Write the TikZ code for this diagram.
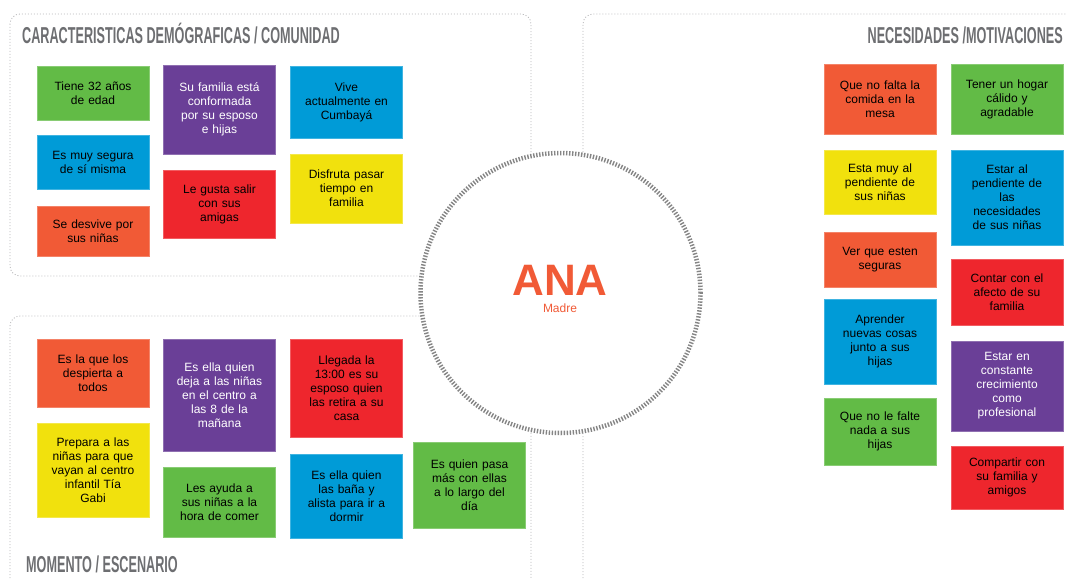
\documentclass[tikz,border=0pt]{standalone}
\usepackage{fontspec}
\setmainfont{Liberation Sans}
\newfontfamily\titlefont[FakeStretch=0.55]{Liberation Sans}
\definecolor{Verde}{HTML}{62BB46}
\definecolor{Azul}{HTML}{009BD7}
\definecolor{Naranja}{HTML}{F15A36}
\definecolor{Morado}{HTML}{6A3F97}
\definecolor{Rojo}{HTML}{EE262D}
\definecolor{Amarillo}{HTML}{F1E10D}
\definecolor{Gris}{HTML}{6D6E71}
\definecolor{Anillo}{HTML}{858585}
\usepackage{tikz}

\begin{document}
\begin{tikzpicture}[x=1pt,y=-1pt,
  nota/.style={rectangle,fill=#1,draw=#1!75!white,line width=0.6pt,
    minimum width=112pt,inner sep=0pt,text width=110pt,align=center,
    font=\fontsize{12}{14}\selectfont,text=black},
  marco/.style={draw=Gris!50,line width=0.8pt,dash pattern=on 1pt off 2pt,
    rounded corners=10pt},
  titulo/.style={font=\titlefont\bfseries\fontsize{23}{23}\selectfont,
    text=Gris,inner sep=0pt}]
  \useasboundingbox (0,0) rectangle (1067,578);

  % Frames of the three areas
  \draw[marco] (10,14) rectangle (531,276);
  \draw[marco] (583,620) |- (1090,14);
  \draw[marco] (10,620) |- (531,316) -- (531,620);

  % Ring with the person
  \node[circle,draw=Anillo,fill=white,line width=4.5pt,
    dash pattern=on 1.4pt off 1.6pt,minimum size=280pt,inner sep=0pt]
    (anillo) at (560.5,293) {};
  \node[font=\bfseries\fontsize{44}{44}\selectfont,text=Naranja,inner sep=0pt]
    (ana) at (560,280) {ANA};
  \node[font=\fontsize{12}{12}\selectfont,text=Naranja,inner sep=0pt]
    (rol) at (560,308.5) {Madre};

  % Block: caracteristicas
  \node[titulo,anchor=base west] (tdemo) at (22,44)
    {CARACTERISTICAS DEMÓGRAFICAS / COMUNIDAD};
  \node[nota=Verde,minimum height=54pt] (edad) at (93,93) {Tiene 32 años\\de edad};
  \node[nota=Azul,minimum height=54pt] (segura) at (93,162) {Es muy segura\\de sí misma};
  \node[nota=Naranja,minimum height=50pt] (desvive) at (93,231) {Se desvive por\\sus niñas};
  \node[nota=Morado,text=white,minimum height=89pt] (familia) at (219.5,109.5)
    {Su familia está\\conformada\\por su esposo\\e hijas};
  \node[nota=Rojo,minimum height=68pt] (amigas) at (219.5,204) {Le gusta salir\\con sus\\amigas};
  \node[nota=Azul,minimum height=72pt] (cumbaya) at (346.5,102) {Vive\\actualmente en\\Cumbayá};
  \node[nota=Amarillo,minimum height=69pt] (disfruta) at (346.5,188.5)
    {Disfruta pasar\\tiempo en\\familia};

  % Block: necesidades
  \node[titulo,anchor=base east] (tneces) at (1063,44) {NECESIDADES /MOTIVACIONES};
  \node[nota=Naranja,minimum height=70pt] (comida) at (880,99)
    {Que no falta la\\comida en la\\mesa};
  \node[nota=Amarillo,minimum height=64pt] (pendiente) at (880,182)
    {Esta muy al\\pendiente de\\sus niñas};
  \node[nota=Naranja,minimum height=55pt] (seguras) at (880,259.5) {Ver que esten\\seguras};
  \node[nota=Azul,minimum height=85pt] (aprender) at (880,341.5)
    {Aprender\\nuevas cosas\\junto a sus\\hijas};
  \node[nota=Verde,minimum height=67pt] (nofalte) at (880,431.5)
    {Que no le falte\\nada a sus\\hijas};
  \node[nota=Verde,minimum height=70pt] (hogar) at (1007,99)
    {Tener un hogar\\cálido y\\agradable};
  \node[nota=Azul,minimum height=95pt] (necesid) at (1007,197.5)
    {Estar al\\pendiente de\\las\\necesidades\\de sus niñas};
  \node[nota=Rojo,minimum height=66pt] (afecto) at (1007,292)
    {Contar con el\\afecto de su\\familia};
  \node[nota=Morado,text=white,minimum height=90pt] (crece) at (1007,386)
    {Estar en\\constante\\crecimiento\\como\\profesional};
  \node[nota=Rojo,minimum height=63pt] (compartir) at (1007,477.5)
    {Compartir con\\su familia y\\amigos};

  % Block: momento
  \node[titulo,anchor=base west] (tmomento) at (26,572) {MOMENTO / ESCENARIO};
  \node[nota=Naranja,minimum height=68pt] (despierta) at (93,373)
    {Es la que los\\despierta a\\todos};
  \node[nota=Amarillo,minimum height=94pt] (prepara) at (93,470)
    {Prepara a las\\niñas para que\\vayan al centro\\infantil Tía\\Gabi};
  \node[nota=Morado,text=white,minimum height=112pt] (deja) at (219.5,395)
    {Es ella quien\\deja a las niñas\\en el centro a\\las 8 de la\\mañana};
  \node[nota=Verde,minimum height=70pt] (comer) at (219.5,502)
    {Les ayuda a\\sus niñas a la\\hora de comer};
  \node[nota=Rojo,minimum height=98pt] (retira) at (346.5,388)
    {Llegada la\\13:00 es su\\esposo quien\\las retira a su\\casa};
  \node[nota=Azul,minimum height=84pt] (bana) at (346.5,496)
    {Es ella quien\\las baña y\\alista para ir a\\dormir};
  \node[nota=Verde,minimum height=86pt] (pasa) at (469.5,485)
    {Es quien pasa\\más con ellas\\a lo largo del\\día};
\end{tikzpicture}
\end{document}
